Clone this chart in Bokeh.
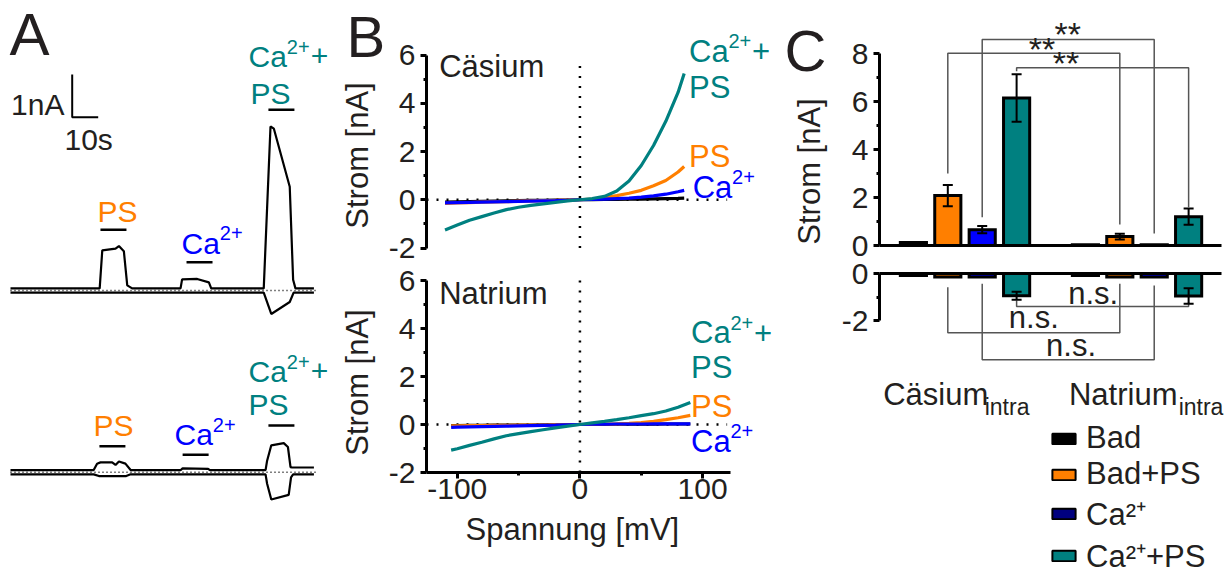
import math
from bokeh.plotting import figure
from bokeh.layouts import row, column
from bokeh.models import (Range1d, FixedTicker, Label, Whisker, TeeHead, Title,
                          ColumnDataSource, Legend, LegendItem)
from bokeh.embed import file_html
from bokeh.resources import INLINE

FONT = "Liberation Sans"
INK = "#231f20"
ORANGE = "#ff7f00"
BLUE = "#0000ff"
TEAL = "#008080"
NAVY = "#00007f"
GRAY = "#555555"

# ---------------- Panel A: example current traces (time s, current nA) ----------------
cs_t_upper = [0, 34.3, 35.3, 40.4, 41.7, 43.6, 44.9, 46.8, 65.4, 66.0, 71.8, 76.3, 77.2,
              97.4, 100.0, 101.3, 107.4, 108.7, 109.6, 116.7]
cs_i_upper = [0.05, 0.05, 0.94, 0.98, 1.04, 0.92, 0.12, 0.05, 0.05, 0.26, 0.27, 0.19, 0.05,
              0.05, 3.84, 3.79, 2.43, 0.25, 0.05, 0.05]
cs_t_lower = [0, 97.4, 100.3, 107.4, 108.9, 116.7]
cs_i_lower = [-0.05, -0.05, -0.55, -0.27, -0.05, -0.05]

na_t_upper = [0, 32.0, 33.3, 34.6, 39.1, 40.4, 41.7, 44.2, 46.2, 65.5, 66.2, 76.0, 76.7,
              98.1, 98.7, 100.3, 105.1, 106.7, 107.7, 108.3, 116.7]
na_i_upper = [0.05, 0.05, 0.20, 0.23, 0.23, 0.17, 0.25, 0.20, 0.05, 0.05, 0.09, 0.08, 0.05,
              0.05, 0.27, 0.63, 0.68, 0.59, 0.12, 0.11, 0.11]
na_t_lower = [0, 32.0, 34.0, 44.5, 46.2, 98.1, 98.7, 100.3, 107.0, 107.9, 108.7, 116.7]
na_i_lower = [-0.05, -0.05, -0.09, -0.09, -0.05, -0.05, -0.27, -0.64, -0.53, -0.12, -0.05, -0.05]

# application periods (start, s) for PS, Ca2+, Ca2+ + PS ; each lasts 10 s
cs_app_start = [34.6, 67.7, 99.2]
na_app_start = [34.2, 66.2, 99.2]
app_duration = 10
scale_t = 10   # s
scale_i = 1    # nA

# ---------------- Panel B: I-V curves (mV, nA) ----------------
v_cs = [-110, -100, -90, -80, -70, -60, -50, -40, -30, -20, -10, 0, 10, 20, 30, 40, 50, 60, 70, 80, 85]
i_cs_bad = [-0.10, -0.09, -0.08, -0.07, -0.06, -0.05, -0.04, -0.03, -0.02, -0.01, -0.01, 0.00,
            0.00, 0.01, 0.01, 0.02, 0.03, 0.04, 0.05, 0.06, 0.07]
i_cs_ps = [-0.15, -0.13, -0.12, -0.10, -0.09, -0.08, -0.06, -0.05, -0.04, -0.03, -0.01, 0.00,
           0.03, 0.08, 0.17, 0.27, 0.39, 0.58, 0.80, 1.15, 1.38]
i_cs_ca = [-0.13, -0.12, -0.11, -0.10, -0.09, -0.08, -0.07, -0.06, -0.05, -0.04, -0.02, 0.00,
           0.01, 0.03, 0.05, 0.07, 0.11, 0.16, 0.23, 0.33, 0.39]
i_cs_caps = [-1.25, -1.05, -0.85, -0.70, -0.55, -0.41, -0.31, -0.23, -0.17, -0.11, -0.05, 0.00,
             0.05, 0.14, 0.36, 0.78, 1.42, 2.25, 3.25, 4.45, 5.23]

v_na = [-105, -100, -90, -80, -70, -60, -50, -40, -30, -20, -10, 0, 10, 20, 30, 40, 50, 60, 70, 80, 90]
i_na_bad = [-0.05, -0.05, -0.04, -0.04, -0.03, -0.03, -0.02, -0.02, -0.01, -0.01, 0.00, 0.00,
            0.00, 0.00, 0.01, 0.01, 0.01, 0.01, 0.02, 0.02, 0.02]
i_na_ps = [-0.06, -0.06, -0.05, -0.05, -0.04, -0.04, -0.03, -0.03, -0.02, -0.01, -0.01, 0.00,
           0.01, 0.02, 0.03, 0.05, 0.08, 0.13, 0.20, 0.28, 0.38]
i_na_ca = [-0.12, -0.11, -0.10, -0.09, -0.08, -0.07, -0.06, -0.05, -0.04, -0.03, -0.01, 0.00,
           0.01, 0.01, 0.02, 0.02, 0.02, 0.03, 0.03, 0.03, 0.03]
i_na_caps = [-1.07, -1.01, -0.87, -0.74, -0.60, -0.47, -0.38, -0.30, -0.22, -0.14, -0.07, 0.00,
             0.07, 0.13, 0.20, 0.28, 0.37, 0.45, 0.56, 0.72, 0.92]

# ---------------- Panel C: mean currents (nA) ----------------
conditions = ["Bad", "Bad+PS", "Ca²⁺", "Ca²⁺+PS"]
pos_cs = [0, 1, 2, 3]
pos_na = [5, 6, 7, 8]
out_cs = [0.12, 2.08, 0.66, 6.15]
out_cs_err = [0.0, 0.44, 0.15, 0.99]
out_na = [0.03, 0.37, 0.03, 1.20]
out_na_err = [0.0, 0.12, 0.0, 0.34]
in_cs = [-0.08, -0.15, -0.15, -0.94]
in_cs_err = [0.0, 0.0, 0.0, 0.17]
in_na = [-0.08, -0.15, -0.15, -0.95]
in_na_err = [0.0, 0.0, 0.0, 0.33]
sig_top = [(2, "**"), (1, "**"), (3, "**")]
sig_bottom = [(3, "n.s."), (1, "n.s."), (2, "n.s.")]

MID = 0.36  # label anchor sits at the middle of the capitals


# ---------------- helpers ----------------
def lab(p, fx, fy, px, py, text, size=31, color=INK, align="left"):
    """px, py: pixel position of the text (left/center, baseline) in the page."""
    p.add_layout(Label(x=fx(px), y=fy(py - MID * size), text=text, text_font=FONT,
                       text_font_size=f"{size}px", text_color=color, text_align=align,
                       text_baseline="alphabetic"))


def ca_lab(p, fx, fy, px, py, color, size=31, tail=""):
    lab(p, fx, fy, px, py, "Ca", size, color)
    w = 1.278 * size
    ss = round(size * 0.66)
    lab(p, fx, fy, px + w, py - 0.45 * size, "2+", ss, color)
    if tail:
        lab(p, fx, fy, px + w + 1.14 * ss + 1, py, tail, size, color)


def style_axis(a, size=30):
    a.axis_line_width = 3
    a.axis_line_color = "black"
    a.major_tick_line_width = 3
    a.major_tick_line_color = "black"
    a.major_tick_out = 6
    a.major_tick_in = 0
    a.minor_tick_line_width = 3
    a.minor_tick_line_color = "black"
    a.minor_tick_out = 3
    a.minor_tick_in = 0
    a.major_label_text_font = FONT
    a.major_label_text_font_size = f"{size}px"
    a.major_label_text_color = INK
    a.axis_label_text_font = FONT
    a.axis_label_text_font_size = "31px"
    a.axis_label_text_font_style = "normal"
    a.axis_label_text_color = INK


def base_fig(**kw):
    p = figure(output_backend="svg", toolbar_location=None, **kw)
    p.outline_line_color = None
    p.background_fill_color = "white"
    p.border_fill_color = "white"
    p.grid.visible = False
    return p


def ylabel_fig(width, height, left, top, bottom, text, letter=None, letter_offset=0,
               letter_standoff=0):
    """Strip that carries a y-axis title (centred on its frame) and the panel letter."""
    p = base_fig(width=width, height=height, x_range=Range1d(0, 1), y_range=Range1d(0, 1),
                 x_axis_location=None, min_border_left=left, min_border_right=0,
                 min_border_top=top, min_border_bottom=bottom)
    a = p.yaxis[0]
    style_axis(a)
    a.ticker = FixedTicker(ticks=[])
    a.axis_line_color = None
    a.major_tick_out = 0
    a.minor_tick_out = 0
    a.major_label_standoff = 0
    a.axis_label = text
    a.axis_label_standoff = 0
    if letter:
        p.add_layout(Title(text=letter, align="left", offset=letter_offset,
                           standoff=letter_standoff, text_font=FONT, text_font_size="58px",
                           text_font_style="normal", text_color=INK), "above")
    return p


# ================= Panel A =================
def ax_(px):
    return (px - 10) / 2.6


def ay_(py):
    return (290 - py) / 42.7


NA_OFF = ay_(471.7)
pA = base_fig(width=336, height=576, x_range=Range1d(ax_(0), ax_(336)),
              y_range=Range1d(ay_(576), ay_(0)), x_axis_location=None,
              y_axis_location=None, min_border=0)

for t, i, off in [(cs_t_upper, cs_i_upper, 0.0), (cs_t_lower, cs_i_lower, 0.0),
                  (na_t_upper, na_i_upper, NA_OFF), (na_t_lower, na_i_lower, NA_OFF)]:
    pA.line(t, [v + off for v in i], line_color="black", line_width=2.2)
for off in (0.0, NA_OFF):
    pA.line([0, ax_(318)], [off, off], line_color="black", line_width=1.5, line_dash="1 3")

cs_bar_y = [ay_(229.3), ay_(261.7), ay_(109.3)]
na_bar_y = [ay_(445.7), ay_(454.3), ay_(425.0)]
pA.segment(x0=cs_app_start, y0=cs_bar_y, x1=[s + app_duration for s in cs_app_start], y1=cs_bar_y,
           line_color="black", line_width=2.5)
pA.segment(x0=na_app_start, y0=na_bar_y, x1=[s + app_duration for s in na_app_start], y1=na_bar_y,
           line_color="black", line_width=2.5)

sx0, sy0 = ax_(71.7), ay_(116.7)
pA.line([sx0, sx0, sx0 + scale_t], [sy0 + scale_i, sy0, sy0], line_color="black", line_width=2)

lab(pA, ax_, ay_, 9, 56, "A", 60)
lab(pA, ax_, ay_, 64, 115, "1nA", 30, align="right")
lab(pA, ax_, ay_, 64, 150, "10s", 30)
lab(pA, ax_, ay_, 97, 221.7, "PS", 30, ORANGE)
ca_lab(pA, ax_, ay_, 181, 253.3, BLUE, 30)
ca_lab(pA, ax_, ay_, 248, 66.7, TEAL, 30, tail="+")
lab(pA, ax_, ay_, 250, 103.3, "PS", 30, TEAL)
lab(pA, ax_, ay_, 93, 436, "PS", 30, ORANGE)
ca_lab(pA, ax_, ay_, 174, 445, BLUE, 30)
ca_lab(pA, ax_, ay_, 248, 381.7, TEAL, 30, tail="+")
lab(pA, ax_, ay_, 248, 415, "PS", 30, TEAL)

# ================= Panel B =================
# frame 68..242 -> title centred at 155 ; frame 280..484 -> centred at 382
sB1 = ylabel_fig(49, 262, 36, 68, 20, "Strom [nA]", letter="B", letter_offset=-28)
sB2 = ylabel_fig(49, 314, 36, 18, 92, "Strom [nA]")


def bx(px):
    return (px - 578.3) / 1.2335


def byt(py):
    return (199.25 - py) / 24.125


def byb(py):
    return (424 - py) / 24.0


def b_fig(height, yr, bottom, xaxis):
    p = base_fig(width=395, height=height, x_range=Range1d(bx(424), bx(780)),
                 y_range=yr, x_axis_location=xaxis,
                 min_border_left=39, min_border_right=0, min_border_top=0,
                 min_border_bottom=bottom)
    p.yaxis.ticker = FixedTicker(ticks=[-2, 0, 2, 4, 6], minor_ticks=[-1, 1, 3, 5])
    p.yaxis.major_label_overrides = {-2: "-2", 0: "0", 2: "2", 4: "4", 6: "6"}
    p.yaxis.bounds = (-2, 6)
    p.yaxis.major_label_standoff = 5
    for a in p.axis:
        style_axis(a)
    return p


pBt = b_fig(262, Range1d(byt(248), byt(0)), 14, None)
pBb = b_fig(314, Range1d(byb(472), byb(262)), 104, "below")
pBb.xaxis.ticker = FixedTicker(ticks=[-100, 0, 100], minor_ticks=[-50, 50])
pBb.xaxis.major_label_overrides = {-100: "-100", 0: "0", 100: "100"}
pBb.xaxis.bounds = (bx(424), bx(730))
pBb.xaxis.major_label_standoff = 0
pBb.add_layout(Title(text="Spannung [mV]", align="left", offset=39, standoff=16,
                     text_font=FONT, text_font_size="31px", text_font_style="normal",
                     text_color=INK), "below")

for p, v, curves, vtop in [(pBt, v_cs, [i_cs_bad, i_cs_ps, i_cs_ca, i_cs_caps], byt(63)),
                           (pBb, v_na, [i_na_bad, i_na_ps, i_na_ca, i_na_caps], 6.0)]:
    p.line([bx(424), 120], [0, 0], line_color="black", line_width=2.5, line_dash="2 8")
    p.line([0, 0], [-2, vtop], line_color="black", line_width=2.5, line_dash="2 8")
    for cur, col in zip(curves, ["black", ORANGE, BLUE, TEAL]):
        p.line(v, cur, line_color=col, line_width=3.2)

lab(pBt, bx, byt, 436.7, 76.7, "Cäsium", 31)
ca_lab(pBt, bx, byt, 688, 61.7, TEAL, 31, tail="+")
lab(pBt, bx, byt, 688, 98, "PS", 31, TEAL)
lab(pBt, bx, byt, 688, 166.7, "PS", 31, ORANGE)
ca_lab(pBt, bx, byt, 691.7, 198, BLUE, 31)

lab(pBb, bx, byb, 436.7, 304, "Natrium", 31)
ca_lab(pBb, bx, byb, 690, 343.3, TEAL, 31, tail="+")
lab(pBb, bx, byb, 690, 378.3, "PS", 31, TEAL)
lab(pBb, bx, byb, 690, 416.7, "PS", 31, ORANGE)
ca_lab(pBb, bx, byb, 690, 451.7, BLUE, 31)

# ================= Panel C =================
# frame 97..245 -> title centred at 171
sC1 = ylabel_fig(58, 576, 46, 97, 331, "Strom [nA]", letter="C", letter_offset=-42,
                 letter_standoff=29)


def cx(px):
    return (px - 912) / 34.5


def cyt(py):
    return (245 - py) / 24.0


def cyb(py):
    return (273 - py) / 23.65


pCt = base_fig(width=392, height=258, x_range=Range1d(cx(878), cx(1230)),
               y_range=Range1d(0, cyt(0)), min_border_left=40, min_border_right=0,
               min_border_top=0, min_border_bottom=13)
pCb = base_fig(width=392, height=318, x_range=Range1d(cx(878), cx(1230)),
               y_range=Range1d(cyb(576), 0), x_axis_location="above",
               min_border_left=40, min_border_right=0, min_border_top=15, min_border_bottom=0)
for p in (pCt, pCb):
    for a in p.axis:
        style_axis(a)
    p.xaxis.ticker = FixedTicker(ticks=[])
    p.xaxis.bounds = (cx(878), cx(1221))
    p.yaxis.major_label_standoff = 5
pCt.yaxis.ticker = FixedTicker(ticks=[0, 2, 4, 6, 8], minor_ticks=[1, 3, 5, 7])
pCt.yaxis.bounds = (0, 8)
pCb.yaxis.ticker = FixedTicker(ticks=[-2, 0], minor_ticks=[-1])
pCb.yaxis.major_label_overrides = {-2: "-2", 0: "0"}
pCb.yaxis.bounds = (-2, 0)

bar_colors = ["black", ORANGE, BLUE, TEAL]
pos_all = pos_cs + pos_na
pCt.vbar(x=pos_all, top=out_cs + out_na, bottom=0, width=0.76, fill_color=bar_colors * 2,
         line_color="black", line_width=3, line_join="miter")
pCb.vbar(x=pos_all, top=0, bottom=in_cs + in_na, width=0.76, fill_color=bar_colors * 2,
         line_color="black", line_width=3, line_join="miter")


def whisk(p, pos, vals, errs):
    xs = [x for x, e in zip(pos, errs) if e > 0]
    ms = [m for m, e in zip(vals, errs) if e > 0]
    es = [e for e in errs if e > 0]
    src = ColumnDataSource(dict(x=xs, upper=[m + e for m, e in zip(ms, es)],
                                lower=[m - e for m, e in zip(ms, es)]))
    w = Whisker(source=src, base="x", upper="upper", lower="lower", line_color="black",
                line_width=2, level="overlay",
                upper_head=TeeHead(size=10, line_width=2, line_color="black"),
                lower_head=TeeHead(size=10, line_width=2, line_color="black"))
    p.add_layout(w)


whisk(pCt, pos_all, out_cs + out_na, out_cs_err + out_na_err)
whisk(pCb, pos_all, in_cs + in_na, in_cs_err + in_na_err)

# significance brackets (layout in pixels)
top_layout = {2: (39, 216.7, 233, 1066.7, 47.7),
              1: (52.7, 173, 224, 1041, 62.7),
              3: (67.3, 70.7, 206.7, 1065, 77)}
for k, txt in sig_top:
    yb, yl, yr, tx, ty = top_layout[k]
    x0, x1 = pos_cs[k], pos_na[k]
    pCt.line([x0, x0, x1, x1], [cyt(yl), cyt(yb), cyt(yb), cyt(yr)], line_color=GRAY, line_width=1.5)
    lab(pCt, cx, cyt, tx, ty - 2, txt, 34, align="center")

bot_layout = {3: (306, 300, 302, 1067.3, 304),
              1: (332.3, 286.7, 283.3, 1007.7, 328.3),
              2: (359.3, 283.3, 285, 1045, 356)}
for k, txt in sig_bottom:
    yb, yl, yr, tx, ty = bot_layout[k]
    x0, x1 = pos_cs[k], pos_na[k]
    pCb.line([x0, x0, x1, x1], [cyb(yl), cyb(yb), cyb(yb), cyb(yr)], line_color=GRAY, line_width=1.5)
    lab(pCb, cx, cyb, tx, ty, txt, 31)

lab(pCb, cx, cyb, 881.7, 405, "Cäsium", 31)
lab(pCb, cx, cyb, 983.5, 415, "intra", 23)
lab(pCb, cx, cyb, 1068, 405, "Natrium", 31)
lab(pCb, cx, cyb, 1178, 415, "intra", 23)

# legend (swatch renderers are hidden; only their legend keys are drawn)
items = []
for k, (name, col) in enumerate(zip(conditions, ["black", ORANGE, NAVY, TEAL])):
    r = pCb.vbar(x=[pos_cs[k]], top=[in_cs[k]], width=0.5, fill_color=col,
                 line_color="black", line_width=2, visible=False)
    items.append(LegendItem(label=name, renderers=[r]))
leg = Legend(items=items, location=(170, 0), glyph_width=29, glyph_height=13,
             label_text_font=FONT, label_text_font_size="31px", label_text_color=INK,
             label_standoff=8, spacing=-4, padding=0, margin=0, label_height=30,
             border_line_color=None, background_fill_alpha=0,
             inactive_fill_alpha=0)
pCb.add_layout(leg)

layout = row(column(pA), column(sB1, sB2), column(pBt, pBb), column(sC1), column(pCt, pCb))
open("out.html", "w").write(file_html(layout, INLINE))
